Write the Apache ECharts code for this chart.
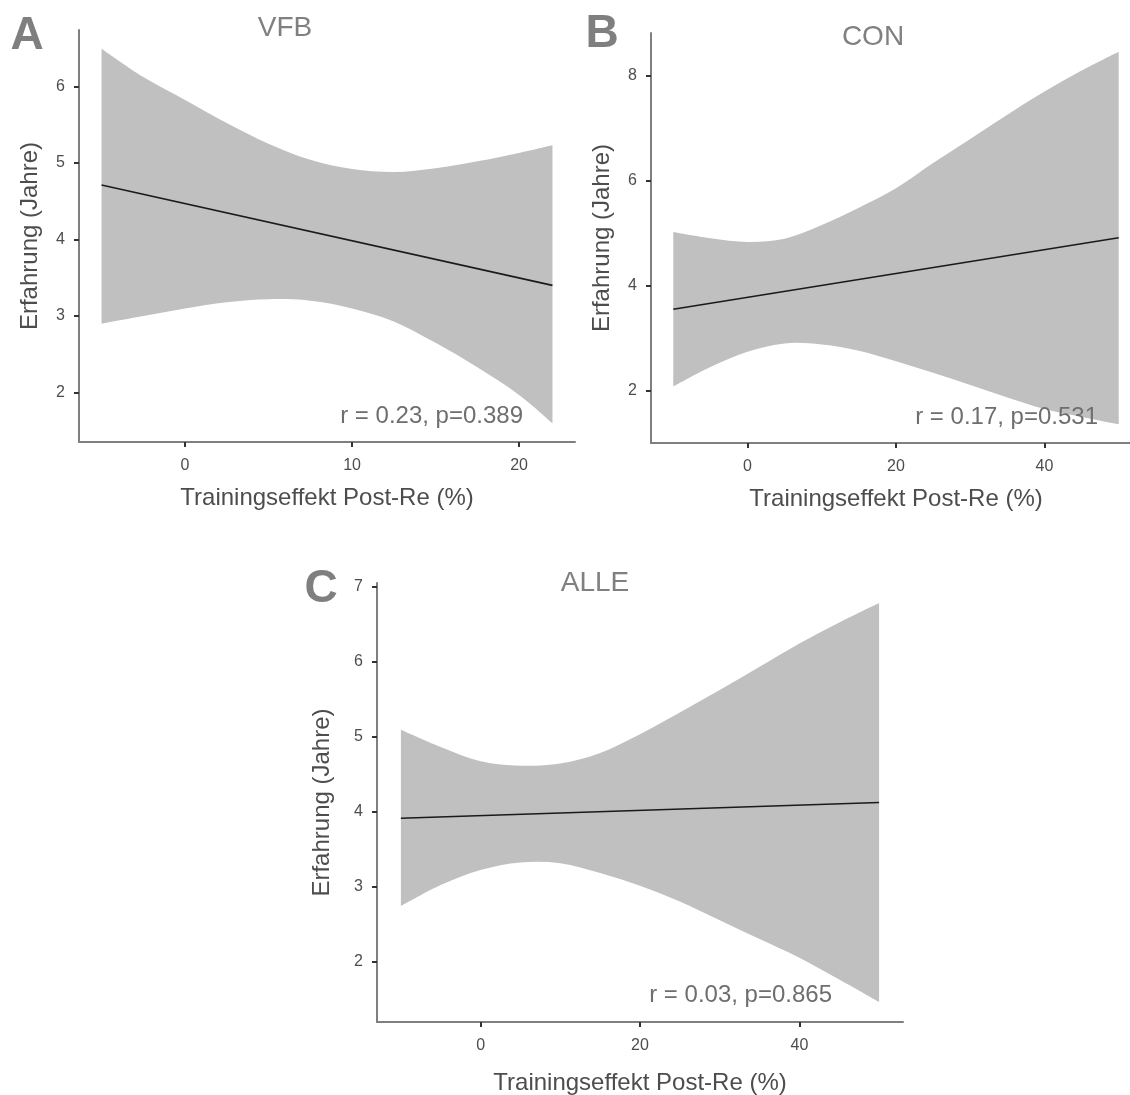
<!DOCTYPE html>
<html>
<head>
<meta charset="utf-8">
<script src="https://cdn.jsdelivr.net/npm/echarts@6/dist/echarts.min.js"></script>
<style>
html,body{margin:0;padding:0;background:#fff;}
#chart{width:1130px;height:1095px;}
</style>
</head>
<body>
<div id="chart"></div>
<script>
// ---- Data ----
const vfbX     = [-5, -2.5, 0, 2.5, 5, 7.5, 10, 12.5, 15, 17.5, 20, 22];
const vfbUpper = [6.49, 6.12, 5.82, 5.52, 5.25, 5.04, 4.92, 4.88, 4.93, 5.02, 5.13, 5.23];
const vfbLower = [2.90, 3.00, 3.10, 3.18, 3.22, 3.20, 3.10, 2.93, 2.65, 2.33, 1.97, 1.60];
const vfbFitX  = [-5, 22];
const vfbFitY  = [4.71, 3.40];

const conX     = [-10, -5, 0, 5, 10, 15, 20, 25, 30, 35, 40, 45, 50];
const conUpper = [5.02, 4.90, 4.83, 4.89, 5.15, 5.48, 5.85, 6.33, 6.79, 7.25, 7.69, 8.09, 8.45];
const conLower = [2.08, 2.45, 2.74, 2.90, 2.88, 2.76, 2.56, 2.34, 2.11, 1.87, 1.65, 1.50, 1.36];
const conFitX  = [-10, 50];
const conFitY  = [3.55, 4.91];

const alleX     = [-10, -5, 0, 5, 10, 15, 20, 25, 30, 35, 40, 45, 50];
const alleUpper = [5.09, 4.86, 4.67, 4.61, 4.64, 4.78, 5.03, 5.32, 5.62, 5.93, 6.24, 6.52, 6.78];
const alleLower = [2.74, 3.02, 3.22, 3.32, 3.31, 3.18, 3.01, 2.80, 2.55, 2.30, 2.05, 1.76, 1.46];
const alleFitX  = [-10, 50];
const alleFitY  = [3.91, 4.12];

const vfbXTicks = [0, 10, 20];
const vfbYTicks = [2, 3, 4, 5, 6];
const conXTicks = [0, 20, 40];
const conYTicks = [2, 4, 6, 8];
const alleXTicks = [0, 20, 40];
const alleYTicks = [2, 3, 4, 5, 6, 7];

const panelTitles = ['VFB', 'CON', 'ALLE'];
const panelLetters = ['A', 'B', 'C'];
const statTexts = ['r = 0.23, p=0.389', 'r = 0.17, p=0.531', 'r = 0.03, p=0.865'];
const xName = 'Trainingseffekt Post-Re (%)';
const yName = 'Erfahrung (Jahre)';

// ---- Build ----
const FONT = '"Liberation Sans", Arial, sans-serif';
const AXIS_COLOR = '#7f7f7f';
const LABEL_COLOR = '#4d4d4d';
const BAND_COLOR = '#c0c0c0';

function expand(lo, hi) { const d = (hi - lo) * 0.05; return [lo - d, hi + d]; }

// smooth curve (Catmull-Rom as cubic Beziers) through already-projected points
function curveSegs(pts) {
  let d = '';
  for (let i = 0; i < pts.length - 1; i++) {
    const p0 = pts[i - 1] || pts[i], p1 = pts[i], p2 = pts[i + 1], p3 = pts[i + 2] || pts[i + 1];
    const c1x = p1[0] + (p2[0] - p0[0]) / 6, c1y = p1[1] + (p2[1] - p0[1]) / 6;
    const c2x = p2[0] - (p3[0] - p1[0]) / 6, c2y = p2[1] - (p3[1] - p1[1]) / 6;
    d += ' C ' + c1x + ' ' + c1y + ' ' + c2x + ' ' + c2y + ' ' + p2[0] + ' ' + p2[1];
  }
  return d;
}

function bandRenderItem(params, api) {
  if (params.dataIndexInside !== 0) return null;
  const n = params.dataInsideLength;
  const up = [], lo = [];
  for (let j = 0; j < n; j++) {
    const xv = api.value(0, j);
    lo.push(api.coord([xv, api.value(1, j)]));
    up.push(api.coord([xv, api.value(2, j)]));
  }
  const loR = lo.slice().reverse();
  const d = 'M ' + up[0][0] + ' ' + up[0][1] + curveSegs(up) +
            ' L ' + loR[0][0] + ' ' + loR[0][1] + curveSegs(loR) + ' Z';
  return {type: 'path', shape: {pathData: d}, style: {fill: BAND_COLOR, stroke: null}, silent: true};
}

const panels = [
  {x: vfbX, up: vfbUpper, lo: vfbLower, fx: vfbFitX, fy: vfbFitY, xt: vfbXTicks, yt: vfbYTicks,
   grid: {left: 79, top: 30, width: 496, height: 412}, xGap: 44, yGap: 37},
  {x: conX, up: conUpper, lo: conLower, fx: conFitX, fy: conFitY, xt: conXTicks, yt: conYTicks,
   grid: {left: 651, top: 33, width: 490, height: 410}, xGap: 44, yGap: 37},
  {x: alleX, up: alleUpper, lo: alleLower, fx: alleFitX, fy: alleFitY, xt: alleXTicks, yt: alleYTicks,
   grid: {left: 377, top: 583, width: 526, height: 439}, xGap: 49, yGap: 43}
];

const grids = [], xAxes = [], yAxes = [], series = [];
panels.forEach((p, i) => {
  grids.push(Object.assign({containLabel: false, outerBoundsMode: 'none'}, p.grid));
  const xr = expand(Math.min(...p.x), Math.max(...p.x));
  const yr = expand(Math.min(...p.lo), Math.max(...p.up));
  const axisCommon = {
    z: 10,
    axisLine: {show: true, onZero: false, lineStyle: {color: AXIS_COLOR, width: 2}},
    splitLine: {show: false},
    nameLocation: 'middle',
    nameTextStyle: {fontSize: 24, color: LABEL_COLOR, fontFamily: FONT}
  };
  xAxes.push(Object.assign({}, axisCommon, {
    type: 'value', gridIndex: i, min: xr[0], max: xr[1],
    name: xName, nameGap: p.xGap,
    axisTick: {show: true, length: 5, customValues: p.xt, lineStyle: {color: '#333', width: 2}},
    axisLabel: {customValues: p.xt, fontSize: 16, color: LABEL_COLOR, fontFamily: FONT, margin: 16}
  }));
  yAxes.push(Object.assign({}, axisCommon, {
    type: 'value', gridIndex: i, min: yr[0], max: yr[1],
    name: yName, nameGap: p.yGap,
    axisTick: {show: true, length: 5, customValues: p.yt, lineStyle: {color: '#333', width: 2}},
    axisLabel: {customValues: p.yt, fontSize: 16, color: LABEL_COLOR, fontFamily: FONT, margin: 14}
  }));
  series.push({
    type: 'custom', xAxisIndex: i, yAxisIndex: i, z: 2, silent: true,
    renderItem: bandRenderItem,
    encode: {x: 0, y: [1, 2]},
    data: p.x.map((xv, k) => [xv, p.lo[k], p.up[k]])
  });
  series.push({
    type: 'line', xAxisIndex: i, yAxisIndex: i, symbol: 'none', z: 5,
    lineStyle: {color: '#1a1a1a', width: 1.6},
    data: p.fx.map((xv, k) => [xv, p.fy[k]])
  });
});

const titlePos = [[285, 28], [873, 37], [595, 583]];
const letterPos = [[27, 36], [602, 34], [321, 589]];
const statPos = [[523, 416], [1098, 417], [832, 995]];
const graphics = [];
for (let i = 0; i < 3; i++) {
  graphics.push({type: 'text', x: titlePos[i][0], y: titlePos[i][1], z: 10,
    style: {text: panelTitles[i], fontSize: 28, fill: '#808080', fontFamily: FONT, textAlign: 'center', textVerticalAlign: 'middle'}});
  graphics.push({type: 'text', x: letterPos[i][0], y: letterPos[i][1], z: 10,
    style: {text: panelLetters[i], fontSize: 46, fontWeight: 'bold', fill: '#7f7f7f', fontFamily: FONT, textAlign: 'center', textVerticalAlign: 'middle'}});
  graphics.push({type: 'text', x: statPos[i][0], y: statPos[i][1], z: 10,
    style: {text: statTexts[i], fontSize: 24, fill: '#6e6e6e', fontFamily: FONT, textAlign: 'right', textVerticalAlign: 'middle'}});
}

const chart = echarts.init(document.getElementById('chart'), null, {renderer: 'canvas'});
chart.setOption({
  animation: false,
  backgroundColor: '#ffffff',
  grid: grids,
  xAxis: xAxes,
  yAxis: yAxes,
  series: series,
  graphic: graphics
});
</script>
</body>
</html>
